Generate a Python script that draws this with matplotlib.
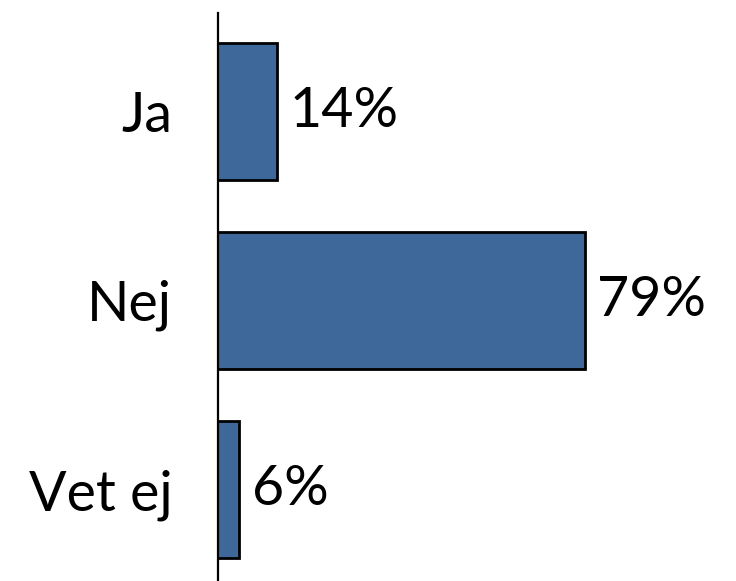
import matplotlib.pyplot as plt
import numpy as np

categories = ["Ja", "Nej", "Vet ej"]
values = [14, 79, 6]
value_labels = ["14%", "79%", "6%"]

bar_color = "#3d6899"

plt.rcParams["font.family"] = ["Lato", "DejaVu Sans"]

fig = plt.figure(figsize=(7.36, 5.81), dpi=100)
ax = fig.add_axes([218 / 736, 0.0, 1 - 218 / 736, 1 - 13 / 581])

y = np.arange(len(categories))
bars = ax.barh(y, values, height=0.725, color=bar_color,
               edgecolor="black", linewidth=2.0, zorder=2)

for bar, text in zip(bars, value_labels):
    ax.annotate(text, (bar.get_width(), bar.get_y() + bar.get_height() / 2),
                xytext=(9, 0), textcoords="offset points",
                ha="left", va="center", fontsize=40, color="black")

ax.set_xlim(1.54, 110.9)
ax.set_ylim(2.484, -0.521)
ax.set_yticks(y)
ax.set_yticklabels(categories, fontsize=40)
ax.tick_params(axis="y", length=0, pad=33)
ax.set_xticks([])

for side in ["top", "right", "bottom"]:
    ax.spines[side].set_visible(False)
ax.spines["left"].set_linewidth(1.6)
ax.spines["left"].set_zorder(3)

fig.savefig("out.png", dpi=100)
plt.close(fig)
